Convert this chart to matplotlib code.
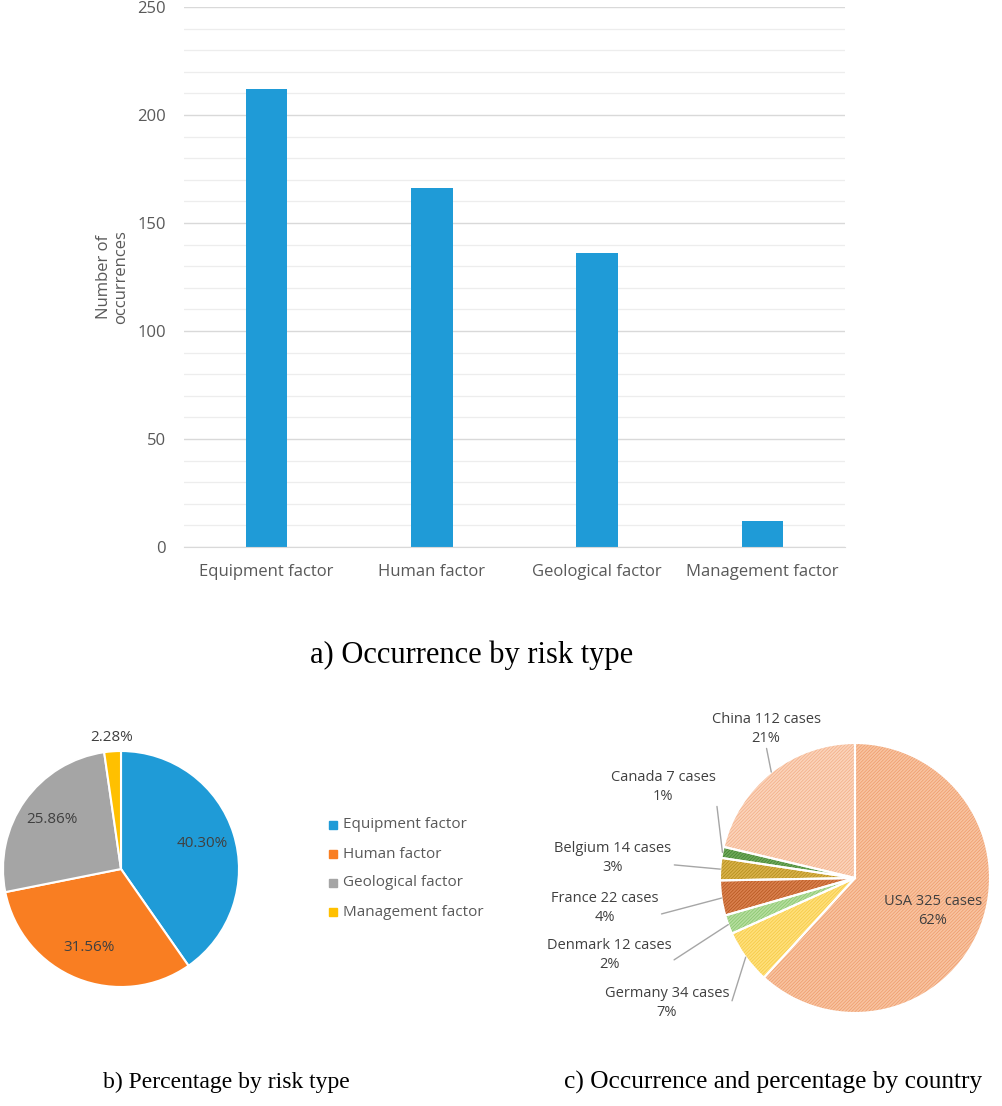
import numpy as np
import matplotlib
matplotlib.use('Agg')
import matplotlib.pyplot as plt

# data
risk_types = ["Equipment factor", "Human factor", "Geological factor", "Management factor"]
risk_counts = [212, 166, 136, 12]
risk_colors = ["#1F9BD7", "#F97E22", "#A5A5A5", "#FFC000"]

countries = ["USA", "Germany", "Denmark", "France", "Belgium", "Canada", "China"]
country_counts = [325, 34, 12, 22, 14, 7, 112]
country_pcts = [62, 7, 2, 4, 3, 1, 21]
country_colors = ["#F8C3A0", "#FFE07A", "#B5DE9E", "#D9804E", "#D9B24A", "#6FA85A", "#FBD3BA"]
country_hatch = ["#EE9A6A", "#F5C842", "#86C46A", "#B5541C", "#B08A18", "#3F7F2E", "#F2AC85"]

W, H = 1003, 1106
fig = plt.figure(figsize=(W / 100, H / 100), dpi=100)
fig.patch.set_facecolor('white')

FONT = 'Open Sans'
GREY = '#595959'
plt.rcParams['hatch.linewidth'] = 0.5


def px_axes(x0, y0, x1, y1):
    # image pixel box (top-left origin) -> figure axes
    return fig.add_axes([x0 / W, 1 - y1 / H, (x1 - x0) / W, (y1 - y0) / H])


# ---- a) bar chart
ax = px_axes(184, 7, 845, 547)
x = np.arange(len(risk_types))
ax.bar(x, risk_counts, width=0.25, color=risk_colors[0], zorder=3)
ax.set_xlim(-0.5, len(risk_types) - 0.5)
ax.set_ylim(0, 250)
ax.set_yticks(np.arange(0, 251, 50))
ax.set_yticks(np.arange(0, 251, 10), minor=True)
ax.grid(axis='y', which='major', color='#D9D9D9', lw=1.0, zorder=0)
ax.grid(axis='y', which='minor', color='#EDEDED', lw=0.9, zorder=0)
for s in ['top', 'right', 'left']:
    ax.spines[s].set_visible(False)
ax.spines['bottom'].set_color('#D9D9D9')
ax.spines['bottom'].set_zorder(4)
ax.tick_params(axis='both', which='both', length=0, colors=GREY, labelsize=12)
ax.tick_params(axis='y', pad=13)
ax.tick_params(axis='x', pad=12)
ax.set_xticks(x)
ax.set_xticklabels(risk_types, fontfamily=FONT)
for lb in ax.get_yticklabels():
    lb.set_fontfamily(FONT)
ax.set_ylabel("Number of\noccurrences", fontsize=12, color=GREY, fontfamily=FONT, labelpad=6,
              linespacing=1.1)

fig.text(472 / W, 1 - 655 / H, "a) Occurrence by risk type", ha='center', va='center',
         fontsize=22, fontfamily='Liberation Serif')

# ---- b) pie by risk type
cxb, cyb, rb = 121, 869, 118
axb = px_axes(0, 700, 300, 1040)
total = sum(risk_counts)
wedges, _ = axb.pie(risk_counts, colors=risk_colors, startangle=90, counterclock=False,
                    radius=1, wedgeprops=dict(edgecolor='white', linewidth=1.5))
axb.set_xlim((0 - cxb) / rb, (300 - cxb) / rb)
axb.set_ylim((cyb - 1040) / rb, (cyb - 700) / rb)
axb.set_aspect('auto')
dists = [0.72, 0.72, 0.72, 1.12]
for w, c, d in zip(wedges, risk_counts, dists):
    ang = np.deg2rad((w.theta1 + w.theta2) / 2)
    axb.text(d * np.cos(ang), d * np.sin(ang), f"{100 * c / total:.2f}%", ha='center', va='center',
             fontsize=11, color='#404040', fontfamily=FONT)

for i, (lab, col) in enumerate(zip(risk_types, risk_colors)):
    yy = 825 + 29 * i
    fig.patches.append(plt.Rectangle((329 / W, 1 - (yy + 4) / H), 8 / W, 8 / H,
                                     color=col, transform=fig.transFigure, figure=fig))
    fig.text(343 / W, 1 - yy / H, lab, ha='left', va='center', fontsize=11, color=GREY,
             fontfamily=FONT)

fig.text(226 / W, 1 - 1082 / H, "b) Percentage by risk type", ha='center', va='center',
         fontsize=17, fontfamily='Liberation Serif')

# ---- c) pie by country
cxc, cyc, rc = 855, 878, 135
axc = px_axes(540, 690, 1003, 1035)
wc, _ = axc.pie(country_counts, colors=country_colors, startangle=90, counterclock=False,
                radius=1, wedgeprops=dict(linewidth=0))
for w, hc in zip(wc, country_hatch):
    w.set_hatch('//////////')
    w.set_edgecolor(hc)
    w.set_linewidth(0)
axc.pie(country_counts, colors=['none'] * len(country_counts), startangle=90, counterclock=False,
        radius=1, wedgeprops=dict(edgecolor='white', linewidth=1.5, fill=False))
axc.set_xlim((540 - cxc) / rc, (1003 - cxc) / rc)
axc.set_ylim((cyc - 1035) / rc, (cyc - 690) / rc)
axc.set_aspect('auto')

# label text centres (pixels)
label_pos = {
    "USA": (933, 911),
    "Germany": (667, 1003),
    "Denmark": (609, 955),
    "France": (605, 908),
    "Belgium": (613, 858),
    "Canada": (663, 787),
    "China": (766, 729),
}
for w, name, cnt, pct in zip(wc, countries, country_counts, country_pcts):
    txt = f"{name} {cnt} cases\n{pct}%"
    lx, ly = label_pos[name]
    tx, ty = (lx - cxc) / rc, (cyc - ly) / rc
    ang = np.deg2rad((w.theta1 + w.theta2) / 2)
    if name == "USA":
        axc.text(tx, ty, txt, ha='center', va='center', fontsize=10.5, color='#404040',
                 fontfamily=FONT, linespacing=1.3)
        continue
    relpos = (0.5, 0.0) if name == "China" else (1.0, 0.3)
    axc.annotate(txt, xy=(np.cos(ang), np.sin(ang)), xytext=(tx, ty), ha='center', va='center',
                 fontsize=10.5, color='#404040', fontfamily=FONT, linespacing=1.3,
                 arrowprops=dict(arrowstyle='-', color='#A6A6A6', lw=1.0, shrinkA=0, shrinkB=0,
                                 relpos=relpos))

fig.text(773 / W, 1 - 1082 / H, "c) Occurrence and percentage by country", ha='center', va='center',
         fontsize=18.3, fontfamily='Liberation Serif')

fig.savefig("out.png", dpi=100, facecolor='white')
